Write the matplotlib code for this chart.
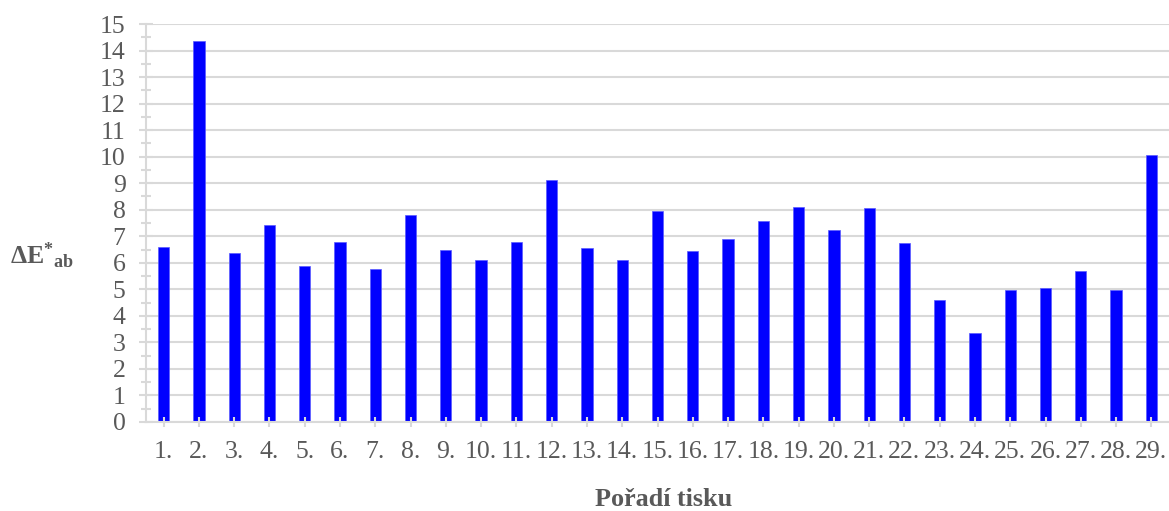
import matplotlib
matplotlib.use("Agg")
import matplotlib.pyplot as plt
from matplotlib.ticker import MultipleLocator

categories = [f"{i}." for i in range(1, 30)]
values = [6.58, 14.35, 6.37, 7.42, 5.88, 6.77, 5.77, 7.79, 6.50, 6.09,
          6.77, 9.13, 6.55, 6.10, 7.97, 6.43, 6.89, 7.57, 8.09, 7.23,
          8.06, 6.74, 4.61, 3.36, 4.96, 5.05, 5.68, 4.96, 10.06]

plt.rcParams['font.family'] = ['Liberation Serif', 'DejaVu Serif']
plt.rcParams['mathtext.fontset'] = 'custom'
plt.rcParams['mathtext.rm'] = 'Liberation Serif'
plt.rcParams['mathtext.bf'] = 'Liberation Serif:bold'
plt.rcParams['mathtext.it'] = 'Liberation Serif:italic'

grid_c = '#d9d9d9'
text_c = '#595959'

fig = plt.figure(figsize=(11.69, 5.11), dpi=100)
ax = fig.add_axes([146/1169, 1-422/511, 1-146/1169, (422-24)/511])

x = list(range(len(categories)))
ax.bar(x, values, width=0.32, color='#0000ff', edgecolor='#5a5aff', linewidth=0.5, zorder=2)

for v in range(0, 16):
    ax.axhline(v, color=grid_c, lw=1.5, zorder=0.5)

ax.set_axisbelow(False)
ax.set_xlim(-0.5, len(categories) - 0.5)
ax.set_ylim(0, 15)
ax.yaxis.set_major_locator(MultipleLocator(1))
ax.yaxis.set_minor_locator(MultipleLocator(0.5))
ax.set_xticks(x)
ax.set_xticklabels(categories)

for s in ['top', 'right']:
    ax.spines[s].set_visible(False)
for s in ['left', 'bottom']:
    ax.spines[s].set_color(grid_c)
    ax.spines[s].set_linewidth(1.5)

ax.tick_params(axis='y', which='major', direction='inout', length=9.5, width=1.5,
               color=grid_c, labelsize=18.5, labelcolor=text_c, pad=10)
ax.tick_params(axis='y', which='minor', direction='inout', length=7.2, width=1.5,
               color=grid_c)
ax.tick_params(axis='x', which='major', direction='inout', length=7.2, width=1.5,
               color=grid_c, labelsize=18.5, labelcolor=text_c, pad=10)

fig.text(10/1169, 1-256/511, r'$\mathbf{\Delta E^{*}{}_{ab}}$', fontsize=18.5,
         color=text_c, ha='left', va='center')
fig.text(664/1169, 1-500/511, 'Pořadí tisku', fontsize=18.8, fontweight='bold',
         color=text_c, ha='center', va='center')

fig.savefig('out.png', dpi=100)
